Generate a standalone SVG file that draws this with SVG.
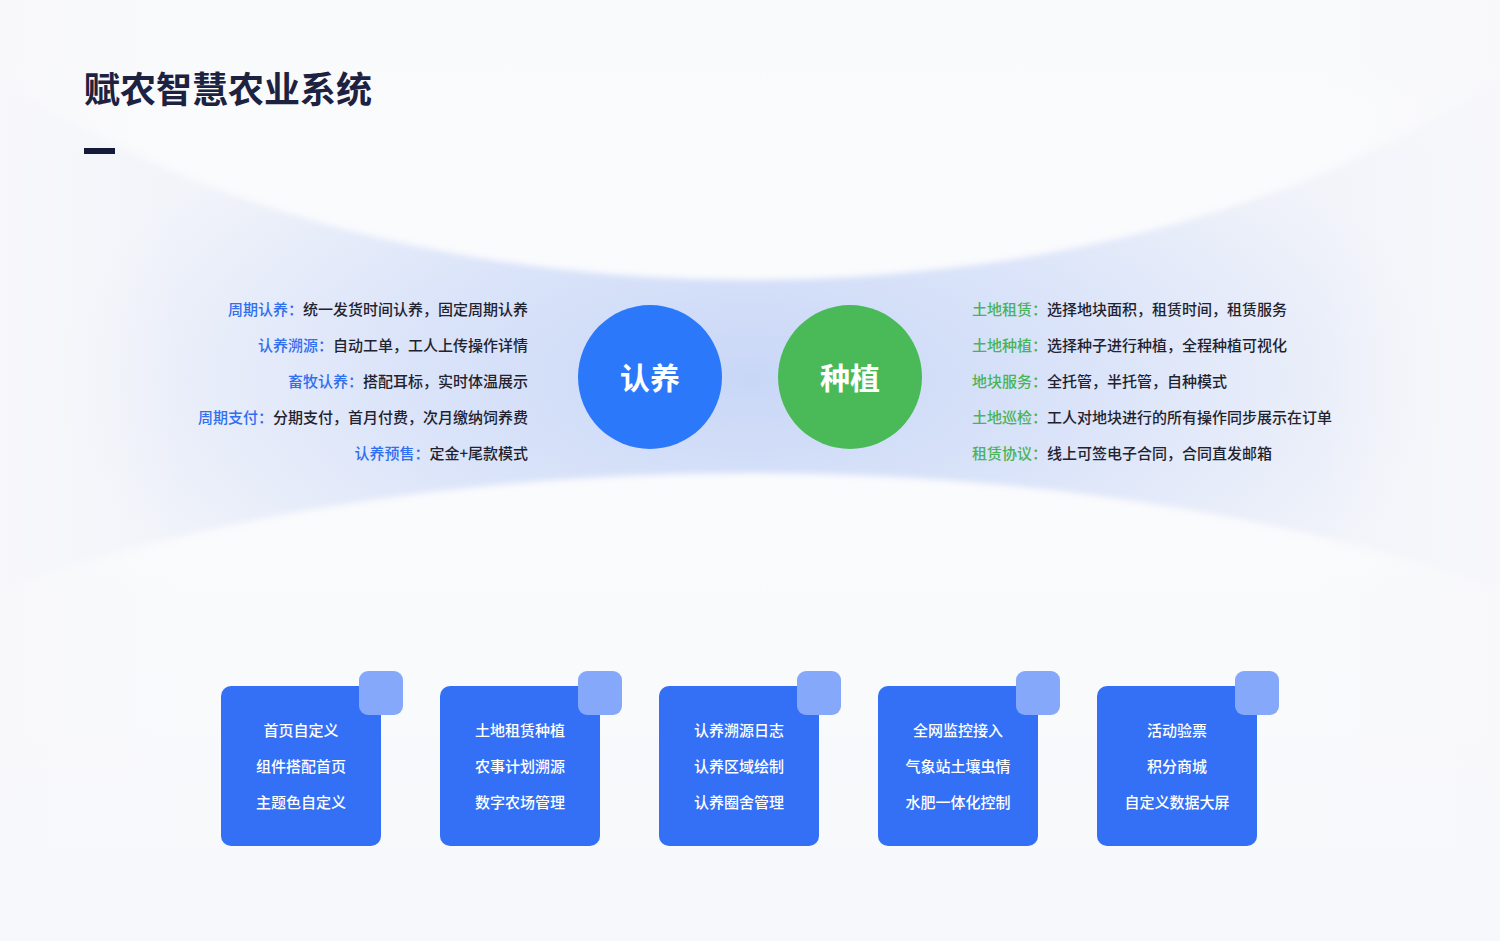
<svg xmlns="http://www.w3.org/2000/svg" width="1500" height="941" viewBox="0 0 1500 941">
<style>
.t{font-family:"Noto Sans CJK SC","Noto Sans",sans-serif;}
.title{font-size:36px;font-weight:700;fill:#1d2241;}
.row{font-size:15px;font-weight:500;fill:#1f2330;dominant-baseline:central;}
.lb{fill:#2f6ff0;}
.lg{fill:#49b35a;}
.big{font-size:30px;font-weight:700;fill:#ffffff;text-anchor:middle;dominant-baseline:central;}
.card{fill:#3370f6;}
.tab{fill:#85a8fb;}
.ct{font-size:15px;font-weight:500;fill:#ffffff;text-anchor:middle;dominant-baseline:central;}
</style>
<defs>
<radialGradient id="band" cx="750" cy="378" r="700" gradientUnits="userSpaceOnUse" gradientTransform="translate(750 378) scale(1 0.45) translate(-750 -378)">
<stop offset="0" stop-color="#c9d7f7"/>
<stop offset="0.5" stop-color="#dbe4f9"/>
<stop offset="1" stop-color="#f2f4fa"/>
</radialGradient>
<linearGradient id="topw" x1="0" y1="0" x2="0" y2="1">
<stop offset="0" stop-color="#f6f7fb"/>
<stop offset="1" stop-color="#fafbfd"/>
</linearGradient>
<linearGradient id="botw" x1="0" y1="0" x2="0" y2="1">
<stop offset="0" stop-color="#fafbfd"/>
<stop offset="1" stop-color="#f1f3f8"/>
</linearGradient>
<linearGradient id="side" x1="0" y1="0" x2="1" y2="0">
<stop offset="0" stop-color="#f8f8fb" stop-opacity="0.95"/>
<stop offset="0.12" stop-color="#f8f8fb" stop-opacity="0"/>
<stop offset="0.88" stop-color="#f8f8fb" stop-opacity="0"/>
<stop offset="1" stop-color="#f8f8fb" stop-opacity="0.9"/>
</linearGradient>
<filter id="soft" x="-10%" y="-10%" width="120%" height="120%"><feGaussianBlur stdDeviation="3"/></filter>
</defs>

<g id="background">
<rect width="1500" height="941" fill="#f3f5fa"/>
<rect x="0" y="150" width="1500" height="450" fill="url(#band)"/>
<ellipse cx="750" cy="-300" rx="991" ry="580" fill="url(#topw)" filter="url(#soft)"/>
<ellipse cx="750" cy="1100" rx="1300" ry="627" fill="url(#botw)" filter="url(#soft)"/>
<rect x="0" y="0" width="1500" height="941" fill="url(#side)"/>
</g>

<g id="title">
<text class="t title" x="84" y="103">赋农智慧农业系统</text>
<rect x="84" y="148" width="31" height="6" fill="#151a3a"/>
</g>

<g id="node-renyang">
<circle cx="650" cy="377" r="72" fill="#2c78fb"/>
<text class="t big" x="650" y="376">认养</text>
</g>
<g id="node-zhongzhi">
<circle cx="850" cy="377" r="72" fill="#4aba58"/>
<text class="t big" x="850" y="376">种植</text>
</g>

<g id="left-list" text-anchor="end">
<text class="t row" x="528" y="308"><tspan class="lb">周期认养：</tspan>统一发货时间认养，固定周期认养</text>
<text class="t row" x="528" y="344"><tspan class="lb">认养溯源：</tspan>自动工单，工人上传操作详情</text>
<text class="t row" x="528" y="380"><tspan class="lb">畜牧认养：</tspan>搭配耳标，实时体温展示</text>
<text class="t row" x="528" y="416"><tspan class="lb">周期支付：</tspan>分期支付，首月付费，次月缴纳饲养费</text>
<text class="t row" x="528" y="452"><tspan class="lb">认养预售：</tspan>定金+尾款模式</text>
</g>

<g id="right-list">
<text class="t row" x="972" y="308"><tspan class="lg">土地租赁：</tspan>选择地块面积，租赁时间，租赁服务</text>
<text class="t row" x="972" y="344"><tspan class="lg">土地种植：</tspan>选择种子进行种植，全程种植可视化</text>
<text class="t row" x="972" y="380"><tspan class="lg">地块服务：</tspan>全托管，半托管，自种模式</text>
<text class="t row" x="972" y="416"><tspan class="lg">土地巡检：</tspan>工人对地块进行的所有操作同步展示在订单</text>
<text class="t row" x="972" y="452"><tspan class="lg">租赁协议：</tspan>线上可签电子合同，合同直发邮箱</text>
</g>

<g id="connectors"></g>

<g id="card-1">
<rect class="card" x="221" y="686" width="160" height="160" rx="10"/>
<rect class="tab" x="359" y="671" width="44" height="44" rx="9"/>
<text class="t ct" x="301" y="729">首页自定义</text>
<text class="t ct" x="301" y="765">组件搭配首页</text>
<text class="t ct" x="301" y="801">主题色自定义</text>
</g>
<g id="card-2">
<rect class="card" x="440" y="686" width="160" height="160" rx="10"/>
<rect class="tab" x="578" y="671" width="44" height="44" rx="9"/>
<text class="t ct" x="520" y="729">土地租赁种植</text>
<text class="t ct" x="520" y="765">农事计划溯源</text>
<text class="t ct" x="520" y="801">数字农场管理</text>
</g>
<g id="card-3">
<rect class="card" x="659" y="686" width="160" height="160" rx="10"/>
<rect class="tab" x="797" y="671" width="44" height="44" rx="9"/>
<text class="t ct" x="739" y="729">认养溯源日志</text>
<text class="t ct" x="739" y="765">认养区域绘制</text>
<text class="t ct" x="739" y="801">认养圈舍管理</text>
</g>
<g id="card-4">
<rect class="card" x="878" y="686" width="160" height="160" rx="10"/>
<rect class="tab" x="1016" y="671" width="44" height="44" rx="9"/>
<text class="t ct" x="958" y="729">全网监控接入</text>
<text class="t ct" x="958" y="765">气象站土壤虫情</text>
<text class="t ct" x="958" y="801">水肥一体化控制</text>
</g>
<g id="card-5">
<rect class="card" x="1097" y="686" width="160" height="160" rx="10"/>
<rect class="tab" x="1235" y="671" width="44" height="44" rx="9"/>
<text class="t ct" x="1177" y="729">活动验票</text>
<text class="t ct" x="1177" y="765">积分商城</text>
<text class="t ct" x="1177" y="801">自定义数据大屏</text>
</g>
</svg>
